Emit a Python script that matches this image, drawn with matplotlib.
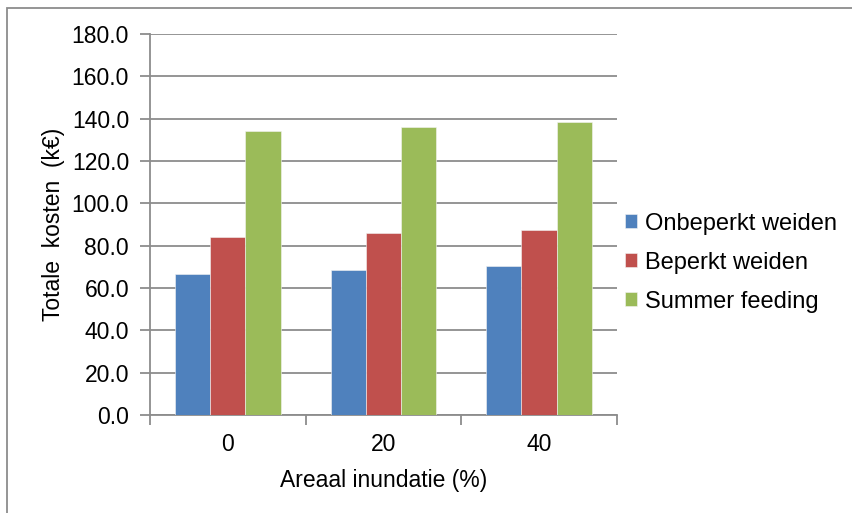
import numpy as np
import matplotlib
matplotlib.use('Agg')
from matplotlib import pyplot as plt
from matplotlib.patches import Rectangle

# data
categories = ['0', '20', '40']
series_names = ['Onbeperkt weiden', 'Beperkt weiden', 'Summer feeding']
onbeperkt = [66.6, 68.5, 70.5]
beperkt = [83.9, 85.9, 87.4]
summer = [134.2, 136.2, 138.2]
colors = ['#4F81BD', '#C0504D', '#9BBB59']

plt.rcParams['font.family'] = ['Liberation Sans', 'DejaVu Sans']

f = plt.figure(figsize=(8.52, 5.13), dpi=100)
ax = f.add_axes([0.176, 0.191, 0.548, 0.743])

x = np.arange(len(categories))
w = 0.226
for i, (vals, name) in enumerate(zip([onbeperkt, beperkt, summer], series_names)):
    ax.bar(x + (i - 1) * w, vals, w, color=colors[i], label=name,
           edgecolor='#f4f4f4', linewidth=0.4, zorder=3)

ax.set_xlim(-0.5, 2.5)
ax.set_ylim(0, 180)
ax.set_yticks(np.arange(0, 181, 20))
ax.set_yticklabels(['%.1f' % v for v in np.arange(0, 181, 20)])
ax.yaxis.grid(True, color='#8c8c8c', linewidth=1.3, zorder=0)

# x ticks at category boundaries, labels centred
ax.set_xticks([-0.5, 0.5, 1.5, 2.5])
ax.set_xticklabels([])
ax.set_xticks(x, minor=True)
ax.set_xticklabels(categories, minor=True)
ax.tick_params(axis='x', which='minor', length=0, pad=13, labelsize=16.5)
ax.tick_params(axis='x', which='major', length=7, width=1.3, color='#8c8c8c')
ax.tick_params(axis='y', length=7, width=1.3, color='#8c8c8c', labelsize=16.5, pad=8)

for s in ['top', 'right']:
    ax.spines[s].set_visible(False)
for s in ['left', 'bottom']:
    ax.spines[s].set_color('#8c8c8c')
    ax.spines[s].set_linewidth(1.3)

ax.set_xlabel('Areaal inundatie (%)', fontsize=16.5, labelpad=9)
ax.set_ylabel('Totale  kosten  (k\u20ac)', fontsize=16.5, labelpad=5)

ax.legend(loc='center left', bbox_to_anchor=(0.972, 0.40), frameon=False,
          fontsize=17, handlelength=0.5, handleheight=0.5,
          handletextpad=0.35, labelspacing=0.72)

# outer chart frame (only left/top visible in the crop)
f.patches.append(Rectangle((7 / 852, -0.1), 1.2, 1 - 8 / 513 + 0.1,
                           transform=f.transFigure, fill=False,
                           edgecolor='#8c8c8c', linewidth=1.3))

f.savefig('out.png', dpi=100)
